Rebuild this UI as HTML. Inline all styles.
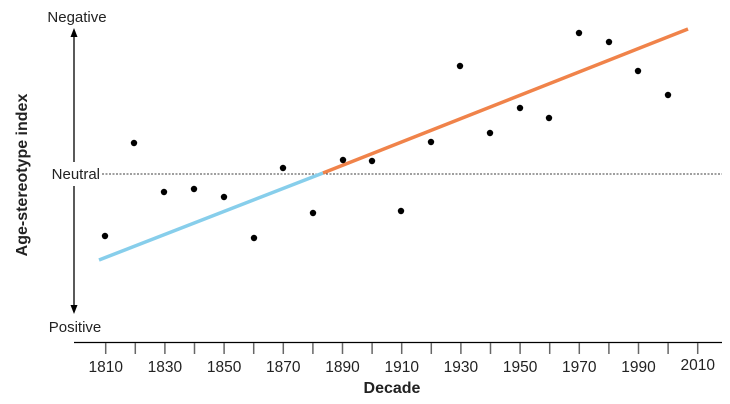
<!DOCTYPE html>
<html><head><style>body{margin:0;background:#fff}svg{display:block}text{font-family:"Liberation Sans",sans-serif;fill:#222}</style></head>
<body>
<svg width="730" height="404" viewBox="0 0 730 404" xmlns="http://www.w3.org/2000/svg">
<text x="77" y="22" font-size="15" text-anchor="middle">Negative</text>
<text x="75" y="332" font-size="15" text-anchor="middle">Positive</text>
<line x1="74" y1="34" x2="74" y2="308" stroke="#000" stroke-width="1.3"/>
<polygon points="74,28 70.5,37 77.5,37" fill="#000"/>
<polygon points="74,314 70.5,305 77.5,305" fill="#000"/>
<rect x="46" y="162" width="56" height="24" fill="#fff"/>
<text x="100" y="179" font-size="15" text-anchor="end">Neutral</text>
<line x1="102" y1="174" x2="722" y2="174" stroke="#000" stroke-width="0.8" stroke-dasharray="2,1.5"/>
<text transform="translate(27,175) rotate(-90)" font-size="16" font-weight="bold" text-anchor="middle">Age-stereotype index</text>
<line x1="74" y1="342.5" x2="722" y2="342.5" stroke="#000" stroke-width="1.3"/>
<g stroke="#666" stroke-width="1.5">
<line x1="105.7" y1="343" x2="105.7" y2="354"/><line x1="135.3" y1="343" x2="135.3" y2="354"/><line x1="164.9" y1="343" x2="164.9" y2="354"/><line x1="194.5" y1="343" x2="194.5" y2="354"/><line x1="224.1" y1="343" x2="224.1" y2="354"/><line x1="253.7" y1="343" x2="253.7" y2="354"/><line x1="283.3" y1="343" x2="283.3" y2="354"/><line x1="312.9" y1="343" x2="312.9" y2="354"/><line x1="342.5" y1="343" x2="342.5" y2="354"/><line x1="372.1" y1="343" x2="372.1" y2="354"/><line x1="401.7" y1="343" x2="401.7" y2="354"/><line x1="431.3" y1="343" x2="431.3" y2="354"/><line x1="460.9" y1="343" x2="460.9" y2="354"/><line x1="490.5" y1="343" x2="490.5" y2="354"/><line x1="520.1" y1="343" x2="520.1" y2="354"/><line x1="549.7" y1="343" x2="549.7" y2="354"/><line x1="579.3" y1="343" x2="579.3" y2="354"/><line x1="608.9" y1="343" x2="608.9" y2="354"/><line x1="638.5" y1="343" x2="638.5" y2="354"/><line x1="668.1" y1="343" x2="668.1" y2="354"/><line x1="697.7" y1="343" x2="697.7" y2="354"/>
</g>
<g font-size="15.5" text-anchor="middle">
<text x="105.7" y="372">1810</text><text x="164.9" y="372">1830</text><text x="224.1" y="372">1850</text><text x="283.3" y="372">1870</text><text x="342.5" y="372">1890</text><text x="401.7" y="372">1910</text><text x="460.9" y="372">1930</text><text x="520.1" y="372">1950</text><text x="579.3" y="372">1970</text><text x="638.5" y="372">1990</text><text x="697.7" y="370">2010</text>
</g>
<text x="392" y="393" font-size="16" font-weight="bold" text-anchor="middle">Decade</text>
<line x1="99" y1="260" x2="323" y2="173" stroke="#87ceeb" stroke-width="3.5"/>
<line x1="323" y1="173" x2="688" y2="29" stroke="#f0834a" stroke-width="3.5"/>
<g fill="#000">
<circle cx="105" cy="236" r="3.2"/><circle cx="134" cy="143" r="3.2"/><circle cx="164" cy="192" r="3.2"/><circle cx="194" cy="189" r="3.2"/><circle cx="224" cy="197" r="3.2"/><circle cx="254" cy="238" r="3.2"/><circle cx="283" cy="168" r="3.2"/><circle cx="313" cy="213" r="3.2"/><circle cx="343" cy="160" r="3.2"/><circle cx="372" cy="161" r="3.2"/><circle cx="401" cy="211" r="3.2"/><circle cx="431" cy="142" r="3.2"/><circle cx="460" cy="66" r="3.2"/><circle cx="490" cy="133" r="3.2"/><circle cx="520" cy="108" r="3.2"/><circle cx="549" cy="118" r="3.2"/><circle cx="579" cy="33" r="3.2"/><circle cx="609" cy="42" r="3.2"/><circle cx="638" cy="71" r="3.2"/><circle cx="668" cy="95" r="3.2"/>
</g>
</svg>
</body></html>
